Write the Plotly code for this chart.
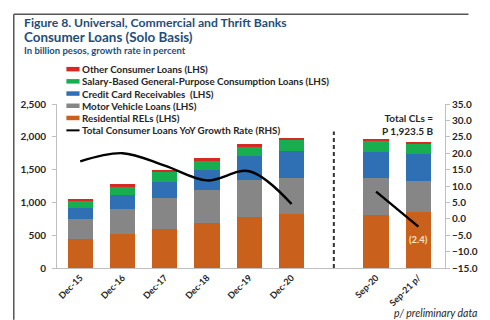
import plotly.graph_objects as go

# ---------------- data ----------------
categories = ["Dec-15", "Dec-16", "Dec-17", "Dec-18", "Dec-19", "Dec-20", " ", "Sep-20", "Sep-21 p/"]
residential = [440, 524, 598, 682, 771, 830, None, 805, 860]
motor_vehicle = [300, 380, 470, 509, 568, 545, None, 570, 465]
credit_card = [175, 205, 247, 297, 371, 409, None, 394, 410]
salary_based = [110, 133, 148, 148, 139, 174, None, 164, 159]
other_loans = [30, 33, 35, 35, 40, 25, None, 35, 30]
growth_rate = [17.5, 20.0, 16.2, 11.7, 14.5, 4.5, None, 8.3, -2.4]

series_names = [
    "Residential RELs (LHS)",
    "Motor Vehicle Loans (LHS)",
    "Credit Card Receivables  (LHS)",
    "Salary-Based General-Purpose Consumption Loans (LHS)",
    "Other Consumer Loans (LHS)",
]
line_name = "Total Consumer Loans YoY Growth Rate (RHS)"
series_values = [residential, motor_vehicle, credit_card, salary_based, other_loans]
colors = ["#C9601B", "#868686", "#2F6FB3", "#17AE50", "#D42A20"]

title_lines = [
    ("Figure 8. Universal, Commercial and Thrift Banks", 12.2),
    ("Consumer Loans (Solo Basis)", 13.4),
    ("In billion pesos, growth rate in percent", 9.5),
]
total_note = "Total CLs =<br>P 1,923.5 B"
last_growth_label = "(2.4)"
footnote = "p/ preliminary data"

# ---------------- layout geometry ----------------
W, H = 490, 320
L, R, T, B = 57, 20, 104, 48
PW, PH = W - L - R, H - T - B

def px_x(px):
    return (px - L) / PW

def px_y(py):
    return (H - B - py) / PH

FONT = "Lato"
TXT = "#262626"
TITLE_C = "#1F4E79"

fig = go.Figure()
for name, vals, col in zip(series_names, series_values, colors):
    fig.add_trace(go.Bar(x=categories, y=vals, name=name, marker=dict(color=col, line=dict(width=0)),
                         showlegend=False))

fig.add_trace(go.Scatter(x=categories, y=growth_rate, yaxis="y2", mode="lines", name=line_name,
                         line=dict(color="black", width=2.4, shape="spline", smoothing=1.0),
                         connectgaps=False, showlegend=False))

shapes = []
annotations = []

# dashed separator in the blank category
shapes.append(dict(type="line", xref="x", yref="y", x0=categories.index(" "), x1=categories.index(" "),
                   y0=0, y1=2080, line=dict(color="#333333", width=2, dash="4px,3px")))

# frame
shapes.append(dict(type="line", xref="paper", yref="paper", x0=px_x(11), x1=px_x(W + 5),
                   y0=px_y(12), y1=px_y(12), line=dict(color="#555555", width=1.5)))
shapes.append(dict(type="line", xref="paper", yref="paper", x0=px_x(11), x1=px_x(11),
                   y0=px_y(12), y1=px_y(H + 5), line=dict(color="#555555", width=1.5)))

# title
for (txt, size), py in zip(title_lines, [21, 35.5, 49]):
    annotations.append(dict(text="<b>%s</b>" % txt, xref="paper", yref="paper", x=px_x(21), y=px_y(py),
                            xanchor="left", yanchor="middle", showarrow=False, borderpad=0,
                            font=dict(family=FONT, size=size, color=TITLE_C)))

# custom legend
legend_items = list(zip(series_names, colors))[::-1]
leg_y = [68.3, 80.8, 93.3, 105.8, 118.3, 131]
for (name, col), py in zip(legend_items, leg_y[:5]):
    shapes.append(dict(type="rect", xref="paper", yref="paper", x0=px_x(67), x1=px_x(81),
                       y0=px_y(py + 2.3), y1=px_y(py - 2.3), fillcolor=col, line=dict(width=0)))
    annotations.append(dict(text="<b>%s</b>" % name, xref="paper", yref="paper", x=px_x(82.5), y=px_y(py),
                            xanchor="left", yanchor="middle", showarrow=False, borderpad=0,
                            font=dict(family=FONT, size=9.8, color=TXT)))
shapes.append(dict(type="line", xref="paper", yref="paper", x0=px_x(67), x1=px_x(81),
                   y0=px_y(leg_y[5]), y1=px_y(leg_y[5]), line=dict(color="black", width=2)))
annotations.append(dict(text="<b>%s</b>" % line_name, xref="paper", yref="paper", x=px_x(82.5), y=px_y(leg_y[5]),
                        xanchor="left", yanchor="middle", showarrow=False, borderpad=0,
                        font=dict(family=FONT, size=9.8, color=TXT)))

# total note
annotations.append(dict(text="<b>%s</b>" % total_note, xref="paper", yref="paper", x=px_x(459), y=px_y(125),
                        xanchor="right", yanchor="middle", align="right", showarrow=False,
                        font=dict(family=FONT, size=10, color=TXT)))

# last growth label
annotations.append(dict(text="<b>%s</b>" % last_growth_label, xref="x", yref="y2", x=categories[-1],
                        y=growth_rate[-1], yshift=-13, showarrow=False,
                        font=dict(family=FONT, size=9.4, color="#FCE2C8")))

# footnote
annotations.append(dict(text="<i>%s</i>" % footnote, xref="paper", yref="paper", x=px_x(414), y=px_y(318),
                        xanchor="left", yanchor="middle", showarrow=False,
                        font=dict(family=FONT, size=10.5, color=TXT)))

axis_font = dict(family=FONT, size=10, color=TXT, weight="bold")

fig.update_layout(
    width=W, height=H, margin=dict(l=L, r=R, t=T, b=B),
    paper_bgcolor="white", plot_bgcolor="white",
    barmode="stack", bargap=0.4,
    showlegend=False,
    xaxis=dict(type="category", categoryorder="array", categoryarray=categories,
               tickangle=-45, tickfont=dict(family=FONT, size=9, color=TXT, weight="bold"),
               showline=True, linecolor="#BFBFBF", linewidth=1, ticks="", showgrid=False,
               range=[-0.55, len(categories) - 0.37]),
    yaxis=dict(range=[0, 2500], tickvals=[0, 500, 1000, 1500, 2000, 2500], tickformat=",",
               tickfont=axis_font, showline=True, linecolor="#BFBFBF", linewidth=1,
               ticks="outside", ticklen=4, tickcolor="#BFBFBF", showgrid=False, zeroline=False,
               ticklabelstandoff=4),
    yaxis2=dict(range=[-15, 35], tickvals=[-15, -10, -5, 0, 5, 10, 15, 20, 25, 30, 35], tickformat=".1f",
                overlaying="y", side="right", tickfont=axis_font, showline=True, linecolor="#BFBFBF",
                linewidth=1, ticks="outside", ticklen=4, tickcolor="#BFBFBF", showgrid=False,
                zeroline=False),
    shapes=shapes, annotations=annotations,
)

fig.write_html("out.html")
